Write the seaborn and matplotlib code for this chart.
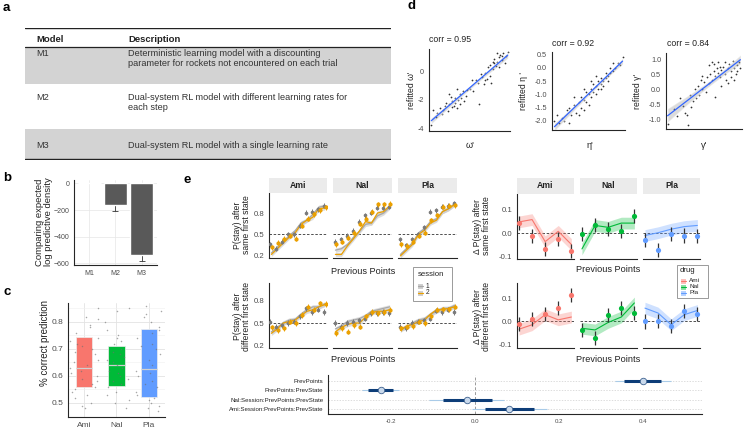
import numpy as np
import pandas as pd
import seaborn as sns
import matplotlib.pyplot as plt
from matplotlib.patches import Rectangle

W, H = 744, 428

# ---------------- data ----------------
# a: model table
table_models = ['M1', 'M2', 'M3']
table_desc = [
    ['Deterministic learning model with a discounting',
     'parameter for rockets not encountered on each trial'],
    ['Dual-system RL model with different learning rates for',
     'each step'],
    ['Dual-system RL model with a single learning rate'],
]

# b: elpd differences
elpd_models = ['M1', 'M2', 'M3']
elpd_diff = [0, -160, -535]
elpd_se = [1, 45, 45]

# c: % correct prediction
drugs = ['Ami', 'Nal', 'Pla']
drug_colors = ['#F8766D', '#00BA38', '#619CFF']
acc_low = [0.558, 0.562, 0.521]
acc_high = [0.745, 0.712, 0.775]
acc_med = [0.630, 0.641, 0.624]
acc_ami = [0.85, 0.82, 0.81, 0.79, 0.78, 0.76, 0.74, 0.73, 0.72, 0.71, 0.70, 0.69, 0.68, 0.66, 0.65, 0.64,
           0.63, 0.62, 0.61, 0.60, 0.59, 0.58, 0.57, 0.56, 0.55, 0.54, 0.53, 0.52, 0.50, 0.49, 0.48]
acc_nal = [0.85, 0.84, 0.80, 0.77, 0.75, 0.74, 0.73, 0.72, 0.70, 0.69, 0.68, 0.67, 0.66, 0.65, 0.64, 0.63,
           0.62, 0.61, 0.60, 0.59, 0.58, 0.57, 0.56, 0.54, 0.53, 0.51, 0.50, 0.48]
acc_pla = [0.86, 0.84, 0.83, 0.82, 0.80, 0.78, 0.77, 0.76, 0.74, 0.72, 0.71, 0.70, 0.68, 0.66, 0.64, 0.62,
           0.61, 0.60, 0.58, 0.57, 0.56, 0.54, 0.53, 0.52, 0.51, 0.50, 0.49, 0.48, 0.47]

# d: parameter recovery
omega_true = [-3.6, -3.5, -3.3, -3.2, -3.0, -2.9, -2.8, -2.7, -2.6, -2.5, -2.4, -2.3, -2.2, -2.2, -2.1, -2.0,
              -2.0, -1.9, -1.9, -1.8, -1.7, -1.7, -1.6, -1.5, -1.4, -1.3, -1.2, -1.0, -0.9, -0.8, -0.6, -0.5,
              -0.4, -0.3, -0.1, 0.0, 0.0, 0.1, 0.2, 0.3, 0.3, 0.4, 0.5, 0.6, 0.6, 0.7, 0.8, 0.9, 0.9, 1.0,
              1.1, 1.2, 1.3, 1.4, 1.5, 0.8, 1.1, 0.5, -0.2, -2.4]
omega_refit = [-3.8, -2.7, -3.2, -2.9, -2.6, -3.0, -2.7, -2.4, -2.2, -2.8, -2.3, -1.8, -2.5, -2.1, -2.4, -1.9,
               -2.2, -1.2, -2.6, -2.0, -1.6, -2.3, -1.9, -1.4, -2.1, -1.7, -1.3, -1.2, -0.6, -1.4, -0.6, -0.8,
               -2.3, -0.2, -0.9, -0.6, -0.1, -0.5, 0.3, -0.3, 0.5, -0.8, 0.2, 0.6, 0.9, 0.4, 0.7, 1.0, 0.3, 1.2,
               0.8, 1.3, 0.6, 1.1, 1.4, 1.3, 1.1, 0.7, -0.4, -1.6]
eta_true = [-2.1, -2.0, -1.9, -1.8, -1.7, -1.6, -1.5, -1.4, -1.3, -1.2, -1.1, -1.0, -1.0, -0.9, -0.9, -0.8,
            -0.8, -0.7, -0.7, -0.6, -0.6, -0.5, -0.5, -0.4, -0.4, -0.3, -0.3, -0.2, -0.2, -0.1, -0.1, 0.0,
            0.0, 0.1, 0.1, 0.2, 0.3, 0.4, 0.5, 0.6, 0.7, -1.3, -1.1, -0.6, -0.2, 0.2, -0.9, -1.5, -0.4, 0.3]
eta_refit = [-2.0, -1.8, -2.1, -1.9, -2.0, -1.6, -2.1, -1.8, -1.4, -1.7, -1.3, -1.5, -1.1, -1.2, -1.6, -0.9,
             -1.3, -1.0, -1.4, -0.8, -1.1, -0.9, -0.6, -0.7, -1.0, -0.5, -0.8, -0.6, -0.4, -0.5, -0.7, -0.4,
             -0.2, -0.3, -0.5, -0.2, -0.1, 0.0, 0.2, 0.1, 0.4, -1.1, -1.8, -0.5, -0.8, 0.0, -0.8, -1.5, -0.3, 0.2]
gamma_true = [-1.3, -1.1, -1.0, -0.9, -0.8, -0.75, -0.7, -0.65, -0.6, -0.55, -0.5, -0.45, -0.4, -0.35, -0.3,
              -0.25, -0.2, -0.15, -0.1, -0.05, 0.0, 0.0, 0.05, 0.1, 0.1, 0.15, 0.2, 0.2, 0.25, 0.3, 0.3, 0.35,
              0.4, 0.4, 0.45, 0.5, 0.5, 0.55, 0.6, 0.6, 0.65, 0.7, 0.7, 0.75, 0.8, 0.8, 0.85, 0.9, 0.9, 0.95,
              1.0, -0.2, 0.15, 0.35]
gamma_refit = [-1.15, -0.65, -0.9, -0.3, -0.55, -0.8, -0.85, -1.2, -0.2, -0.6, -0.4, 0.0, -0.3, 0.1, -0.2,
               0.3, 0.0, 0.25, -0.1, 0.4, 0.2, 0.8, 0.5, 0.9, 0.3, 0.6, 0.45, -0.25, 0.7, 0.55, 0.9, 0.4,
               0.65, 0.1, 0.75, 0.5, 0.9, 0.3, 0.7, 0.2, 0.85, 0.6, 0.4, 0.95, 0.7, 0.3, 0.5, 0.8, 0.6, 0.9,
               0.7, 0.45, 0.85, 0.75]
corr_values = [0.95, 0.92, 0.84]

# e: P(stay) by previous points, per drug (Ami, Nal, Pla); session 1 = grey, session 2 = orange
prev_levels = list(range(1, 11))
same_s1_obs = [[0.36, 0.30, 0.40, 0.50, 0.50, 0.62, 0.80, 0.82, 0.85, 0.90],
               [0.40, 0.43, 0.48, 0.55, 0.68, 0.77, 0.80, 0.87, 0.87, 0.89],
               [0.43, 0.35, 0.43, 0.50, 0.60, 0.82, 0.84, 0.89, 0.90, 0.94]]
same_s2_obs = [[0.32, 0.38, 0.44, 0.48, 0.44, 0.62, 0.72, 0.78, 0.84, 0.88],
               [0.36, 0.40, 0.45, 0.52, 0.65, 0.72, 0.82, 0.92, 0.92, 0.93],
               [0.36, 0.34, 0.40, 0.48, 0.52, 0.70, 0.77, 0.89, 0.90, 0.91]]
same_s1_fit = [[0.24, 0.32, 0.40, 0.48, 0.55, 0.66, 0.70, 0.78, 0.88, 0.90],
               [0.28, 0.30, 0.36, 0.46, 0.54, 0.64, 0.66, 0.76, 0.80, 0.88],
               [0.22, 0.30, 0.38, 0.52, 0.58, 0.68, 0.72, 0.82, 0.86, 0.93]]
same_s2_fit = [[0.22, 0.30, 0.38, 0.46, 0.52, 0.64, 0.70, 0.74, 0.86, 0.87],
               [0.22, 0.22, 0.34, 0.44, 0.55, 0.68, 0.66, 0.80, 0.82, 0.90],
               [0.20, 0.28, 0.36, 0.50, 0.56, 0.66, 0.70, 0.82, 0.86, 0.92]]
diff_s1_obs = [[0.52, 0.45, 0.47, 0.50, 0.52, 0.59, 0.70, 0.65, 0.68, 0.65],
               [0.50, 0.45, 0.50, 0.52, 0.54, 0.56, 0.63, 0.63, 0.65, 0.63],
               [0.45, 0.43, 0.50, 0.52, 0.54, 0.56, 0.67, 0.65, 0.68, 0.65]]
diff_s2_obs = [[0.44, 0.40, 0.43, 0.52, 0.50, 0.61, 0.72, 0.68, 0.77, 0.76],
               [0.36, 0.43, 0.38, 0.47, 0.45, 0.59, 0.65, 0.63, 0.65, 0.68],
               [0.43, 0.45, 0.46, 0.52, 0.50, 0.59, 0.68, 0.69, 0.69, 0.72]]
diff_s1_fit = [[0.38, 0.44, 0.50, 0.54, 0.55, 0.62, 0.68, 0.72, 0.72, 0.76],
               [0.42, 0.46, 0.52, 0.54, 0.56, 0.60, 0.66, 0.68, 0.70, 0.72],
               [0.42, 0.44, 0.50, 0.54, 0.56, 0.62, 0.66, 0.70, 0.70, 0.74]]
diff_s2_fit = [[0.36, 0.42, 0.50, 0.52, 0.54, 0.60, 0.66, 0.68, 0.72, 0.75],
               [0.38, 0.44, 0.48, 0.50, 0.50, 0.58, 0.64, 0.66, 0.66, 0.68],
               [0.40, 0.46, 0.48, 0.52, 0.54, 0.62, 0.68, 0.68, 0.70, 0.72]]
pstay_err = 0.035
pstay_band = 0.03

# e: drug - placebo differences (5 bins)
delta_levels = list(range(1, 6))
delta_same_obs = [[0.046, -0.010, -0.065, -0.022, -0.076],
                  [-0.003, 0.034, 0.019, 0.009, 0.074],
                  [-0.028, -0.069, -0.003, -0.009, -0.012]]
delta_same_fit = [[0.049, 0.059, -0.035, 0.009, -0.047],
                  [-0.066, 0.034, 0.026, 0.044, 0.044],
                  [-0.009, 0.003, 0.018, 0.029, 0.034]]
delta_diff_obs = [[-0.010, 0.010, 0.030, 0.057, 0.114],
                  [-0.036, -0.069, 0.029, 0.057, 0.037],
                  [0.000, 0.001, -0.021, 0.043, 0.030]]
delta_diff_fit = [[-0.033, -0.014, 0.029, 0.007, 0.019],
                  [-0.029, -0.036, -0.004, 0.019, 0.079],
                  [0.057, 0.036, -0.014, 0.029, 0.047]]
delta_err = 0.03
delta_band = 0.025

# e: regression coefficients
coef_names = ['PrevPoints', 'PrevPoints:PrevState',
              'Nal:Session:PrevPoints:PrevState', 'Ami:Session:PrevPoints:PrevState']
coef_est = [0.40, -0.224, -0.02, 0.08]
coef_lo50 = [0.355, -0.255, -0.076, 0.024]
coef_hi50 = [0.443, -0.195, 0.040, 0.140]
coef_lo95 = [0.333, -0.270, -0.110, -0.007]
coef_hi95 = [0.467, -0.180, 0.070, 0.170]

# ---------------- style ----------------
sns.set_style('white')
plt.rcParams['font.family'] = ['Liberation Sans', 'DejaVu Sans']
plt.rcParams['axes.linewidth'] = 0.8
TXT = '#222222'
TICKC = '#4d4d4d'
GREY_S1 = '#8f8f8f'
ORANGE_S2 = '#EBA000'

fig = plt.figure(figsize=(W / 100, H / 100), dpi=100)


def add_ax(x0, y0, x1, y1):
    return fig.add_axes([x0 / W, 1 - y1 / H, (x1 - x0) / W, (y1 - y0) / H])


def tidy(ax, fs):
    ax.tick_params(axis='both', labelsize=fs, colors='#333333', labelcolor=TICKC,
                   length=2, width=0.5, pad=1.5, direction='out')
    ax.set_xlabel('')
    ax.set_ylabel('')
    sns.despine(ax=ax)


# ---------------- a: table ----------------
ta = add_ax(25, 28, 391, 160)
ta.set_xlim(25, 391)
ta.set_ylim(160, 28)
ta.axis('off')
for (y0, y1), grey in zip([(47, 84), (84, 129), (129, 159)], [True, False, True]):
    if grey:
        ta.axhspan(y0, y1, color='#d3d3d3', lw=0)
ta.axhline(28, color=TXT, lw=1.0)
ta.axhline(47, color=TXT, lw=0.9)
ta.axhline(159, color=TXT, lw=1.0)
ta.text(36, 39, 'Model', weight='bold', fontsize=6.8, va='center', color=TXT)
ta.text(128, 39, 'Description', weight='bold', fontsize=6.8, va='center', color=TXT)
for y, m, lines in zip([53, 97, 145], table_models, table_desc):
    ta.text(36, y, m, fontsize=6.6, va='center', color='#333333')
    for i, ln in enumerate(lines):
        ta.text(128, y + i * 11, ln, fontsize=6.6, va='center', color='#333333')

# ---------------- b: elpd bars ----------------
bx = add_ax(74, 180, 157, 265)
sns.barplot(x=elpd_models, y=elpd_diff, color='#595959', saturation=1, width=0.87, ax=bx)
for p in bx.patches:
    p.set_zorder(3)
bx.errorbar(range(3), elpd_diff, yerr=elpd_se, fmt='none', ecolor='#333333',
            elinewidth=0.6, capsize=2.5, capthick=0.6, zorder=2)
bx.set_ylim(-612, 25)
bx.set_yticks([0, -200, -400, -600])
bx.grid(True, color='#e6e6e6', lw=0.5)
bx.set_axisbelow(True)
tidy(bx, 5)

# ---------------- c: accuracy ----------------
cx = add_ax(68, 303, 165, 417)
np.random.seed(4)
acc_df = pd.DataFrame({'drug': ['Ami'] * len(acc_ami) + ['Nal'] * len(acc_nal) + ['Pla'] * len(acc_pla),
                       'acc': acc_ami + acc_nal + acc_pla})
cx.bar(range(3), np.subtract(acc_high, acc_low), bottom=acc_low, width=0.5, color=drug_colors,
       edgecolor='#eeeeee', lw=0.5, zorder=2)
cx.hlines(acc_med, np.arange(3) - 0.25, np.arange(3) + 0.25, color='#d0d0d0', lw=0.9, zorder=3)
sns.stripplot(data=acc_df, x='drug', y='acc', order=drugs, jitter=0.45, size=1.1,
              color='#6e6e6e', alpha=0.6, ax=cx, zorder=4)
cx.set_ylim(0.448, 0.87)
cx.set_xlim(-0.5, 2.5)
cx.set_yticks([0.5, 0.6, 0.7, 0.8])
cx.set_yticks([0.55, 0.65, 0.75, 0.85], minor=True)
cx.grid(True, which='major', color='#e3e3e3', lw=0.6)
cx.grid(True, which='minor', axis='y', color='#f0f0f0', lw=0.4)
cx.set_axisbelow(True)
tidy(cx, 6)
cx.tick_params(axis='y', which='minor', length=0)

# ---------------- d: recovery scatter ----------------
d_boxes = [(429, 49, 510, 131), (552, 52, 625, 130), (666, 53, 742, 129)]
d_data = [(omega_true, omega_refit), (eta_true, eta_refit), (gamma_true, gamma_refit)]
d_ylims = [(-4.2, 1.6), (-2.35, 0.6), (-1.33, 1.2)]
d_xlims = [(-3.75, 1.65), (-2.2, 0.8), (-1.35, 1.05)]
d_yticks = [[-4, -2, 0], [-2.0, -1.5, -1.0, -0.5, 0.0, 0.5], [-1.0, -0.5, 0.0, 0.5, 1.0]]
d_yfmt = ['{:.0f}', '{:.1f}', '{:.1f}']
for box, (xs, ys), yl, xl, yt, fm in zip(d_boxes, d_data, d_ylims, d_xlims, d_yticks, d_yfmt):
    ax = add_ax(*box)
    sns.regplot(x=xs, y=ys, ax=ax, seed=1,
                scatter_kws=dict(s=1.6, color='black', linewidths=0),
                line_kws=dict(color='#3366FF', lw=0.9))
    band = ax.collections[-1]
    band.set_facecolor('#9a9a9a')
    band.set_alpha(0.35)
    ax.set_xlim(xl)
    ax.set_ylim(yl)
    ax.set_xticks([])
    ax.set_yticks(yt, [fm.format(v) for v in yt])
    tidy(ax, 5.2)

# ---------------- e: P(stay) facets ----------------
left_cols = [(269, 327), (333, 392), (398, 457)]
right_cols = [(517, 574), (580, 637), (643, 700)]


def facet_axes(x0, x1, y0, y1, first, ylim, yticks, yfmt, href, xlim):
    ax = add_ax(x0, y0, x1, y1)
    ax.set_xlim(xlim)
    ax.set_ylim(ylim)
    ax.axhline(href, ls=(0, (3, 2)), color='#333333', lw=0.6, zorder=0)
    ax.set_xticks([])
    if first:
        ax.set_yticks(yticks, [yfmt.format(v) for v in yticks])
    else:
        ax.set_yticks([])
    tidy(ax, 5.6)
    if not first:
        ax.spines['left'].set_visible(False)
    return ax


def strip(x0, x1, y0, y1, label):
    sx = add_ax(x0, y0, x1, y1)
    sx.set_facecolor('#ebebeb')
    sx.set_xticks([])
    sx.set_yticks([])
    for s in sx.spines.values():
        s.set_visible(False)
    sx.text(0.5, 0.5, label, transform=sx.transAxes, ha='center', va='center',
            fontsize=6.2, weight='bold', color=TXT)


left_rows = [((193, 258), (0.17, 1.08), same_s1_obs, same_s2_obs, same_s1_fit, same_s2_fit),
             ((283, 348), (0.16, 1.045), diff_s1_obs, diff_s2_obs, diff_s1_fit, diff_s2_fit)]
for r, ((y0, y1), yl, s1o, s2o, s1f, s2f) in enumerate(left_rows):
    for i, (x0, x1) in enumerate(left_cols):
        ax = facet_axes(x0, x1, y0, y1, i == 0, yl, [0.2, 0.5, 0.8], '{:.1f}', 0.5, (0.6, 10.4))
        lv = np.array(prev_levels)
        for fit, col in [(s1f[i], '#a8a8a8'), (s2f[i], ORANGE_S2)]:
            ax.fill_between(lv, np.array(fit) - pstay_band, np.array(fit) + pstay_band,
                            color='#c4c4c4', alpha=0.55, lw=0, zorder=1)
            sns.lineplot(x=lv, y=fit, color=col, lw=0.9, ax=ax, zorder=2)
        ax.errorbar(lv - 0.15, s1o[i], yerr=pstay_err, fmt='o', ms=1.6, color='#7a7a7a',
                    elinewidth=0.7, zorder=3)
        ax.errorbar(lv + 0.15, s2o[i], yerr=pstay_err, fmt='o', ms=2.0, color=ORANGE_S2,
                    elinewidth=0.7, zorder=4)
        ax.set_xlabel('')
        ax.set_ylabel('')
        if r == 0:
            strip(x0, x1, 178, 193, drugs[i])

right_rows = [((194, 259), (-0.109, 0.168), delta_same_obs, delta_same_fit),
              ((283, 348), (-0.113, 0.164), delta_diff_obs, delta_diff_fit)]
for r, ((y0, y1), yl, obs, fit) in enumerate(right_rows):
    for i, (x0, x1) in enumerate(right_cols):
        ax = facet_axes(x0, x1, y0, y1, i == 0, yl, [-0.1, 0.0, 0.1], '{:.1f}', 0.0, (0.85, 5.2))
        lv = np.array(delta_levels)
        ax.fill_between(lv, np.array(fit[i]) - delta_band, np.array(fit[i]) + delta_band,
                        color=drug_colors[i], alpha=0.3, lw=0, zorder=1)
        sns.lineplot(x=lv, y=fit[i], color=drug_colors[i], lw=0.8, ax=ax, zorder=2)
        ax.errorbar(lv, obs[i], yerr=delta_err, fmt='none', ecolor='#333333', elinewidth=0.9, zorder=3)
        sns.scatterplot(x=lv, y=obs[i], color=drug_colors[i], s=14, linewidth=0, ax=ax, zorder=4)
        ax.set_xlabel('')
        ax.set_ylabel('')
        if r == 0:
            strip(x0, x1, 178, 194, drugs[i])

# ---------------- e: coefficient plot ----------------
fx = add_ax(328, 375, 702, 414)
yy = np.arange(len(coef_names))
fx.set_xlim(-0.35, 0.54)
fx.set_ylim(3.55, -0.65)
for y in yy:
    fx.axhline(y, color='#cfcfcf', lw=0.5, ls=(0, (2, 2)), zorder=0)
fx.axvline(0, color='#9a9a9a', lw=0.7, ls=(0, (3, 2)), zorder=0)
fx.hlines(yy, coef_lo95, coef_hi95, color='#a9cbe8', lw=0.8, zorder=1)
fx.hlines(yy, coef_lo50, coef_hi50, color='#0d3d78', lw=2.2, zorder=2)
sns.scatterplot(x=coef_est, y=yy, s=22, color='#c9d9ec', edgecolor='#3e628f', linewidth=0.6, ax=fx, zorder=3)
fx.set_yticks(yy, coef_names)
fx.set_xticks([-0.2, 0.0, 0.2, 0.4], ['-0.2', '0.0', '0.2', '0.4'])
tidy(fx, 4.4)
fx.tick_params(axis='y', labelcolor=TXT)

# ---------------- overlay text / legends ----------------
ov = fig.add_axes([0, 0, 1, 1], zorder=10)
ov.set_xlim(0, W)
ov.set_ylim(H, 0)
ov.axis('off')
ov.patch.set_alpha(0)

for x, y, s in [(3, 8, 'a'), (3, 178, 'b'), (3, 292, 'c'), (408, 6, 'd'), (184, 180, 'e')]:
    ov.text(x, y, s, fontsize=9.5, weight='bold', va='center', color='black')

# b / c labels
ov.text(44, 222, 'Comparing expected\nlog predictive density', rotation=90, ha='center', va='center',
        fontsize=6.8, color=TXT, linespacing=1.05)
ov.text(45, 343, '% correct prediction', rotation=90, ha='center', va='center', fontsize=7, color=TXT)

# d labels
for (x, y), s in zip([(429, 39), (552, 43), (667, 43)], corr_values):
    ov.text(x, y, f'corr = {s:.2f}', fontsize=6.3, va='center', color=TXT)
for (x, y), s in zip([(411, 90), (523, 91), (638, 91)], ["refitted ω'", "refitted η '", "refitted γ'"]):
    ov.text(x, y, s, rotation=90, ha='center', va='center', fontsize=6.2, color=TXT)
for (x, y), s in zip([(470, 145), (590, 145), (704, 145)], ["ω'", "η'", "γ'"]):
    ov.text(x, y, s, ha='center', va='center', fontsize=6.5, color=TXT)

# e axis labels
for x, y in [(363, 271), (363, 359), (608, 270), (608, 359)]:
    ov.text(x, y, 'Previous Points', ha='center', va='center', fontsize=6.6, color=TXT)
ov.text(242, 225, 'P(stay) after\nsame first state', rotation=90, ha='center', va='center',
        fontsize=6.2, color=TXT, linespacing=1.0)
ov.text(242, 316, 'P(stay) after\ndifferent first state', rotation=90, ha='center', va='center',
        fontsize=6.2, color=TXT, linespacing=1.0)
ov.text(482, 226, 'Δ P(stay) after\nsame first state', rotation=90, ha='center', va='center',
        fontsize=6.2, color=TXT, linespacing=1.0)
ov.text(482, 316, 'Δ P(stay) after\ndifferent first state', rotation=90, ha='center', va='center',
        fontsize=6.2, color=TXT, linespacing=1.0)

# session legend
ov.add_patch(Rectangle((413, 267), 39, 34, facecolor='white', edgecolor='#9a9a9a', lw=0.7))
ov.text(418, 275, 'session', fontsize=5.6, va='center', color=TXT)
for y, col, lab in [(286, '#a8a8a8', '1'), (293, ORANGE_S2, '2')]:
    ov.add_patch(Rectangle((418, y - 2.5), 5, 5, facecolor='#d0d0d0', lw=0))
    ov.plot([418, 423], [y, y], color=col, lw=0.9)
    ov.text(426, y, lab, fontsize=4.8, va='center', color=TXT)

# drug legend
ov.add_patch(Rectangle((677, 265), 31, 33, facecolor='white', edgecolor='#9a9a9a', lw=0.7))
ov.text(680, 270.5, 'drug', fontsize=5.6, va='center', color=TXT)
for y, col, lab in zip([281, 287, 293], drug_colors, drugs):
    ov.add_patch(Rectangle((681, y - 2.5), 5, 5, facecolor=col, alpha=0.45, lw=0))
    ov.plot([681, 686], [y, y], color=col, lw=0.8)
    ov.text(689, y, lab, fontsize=4.6, va='center', color=TXT)

fig.savefig('out.png', dpi=100)
